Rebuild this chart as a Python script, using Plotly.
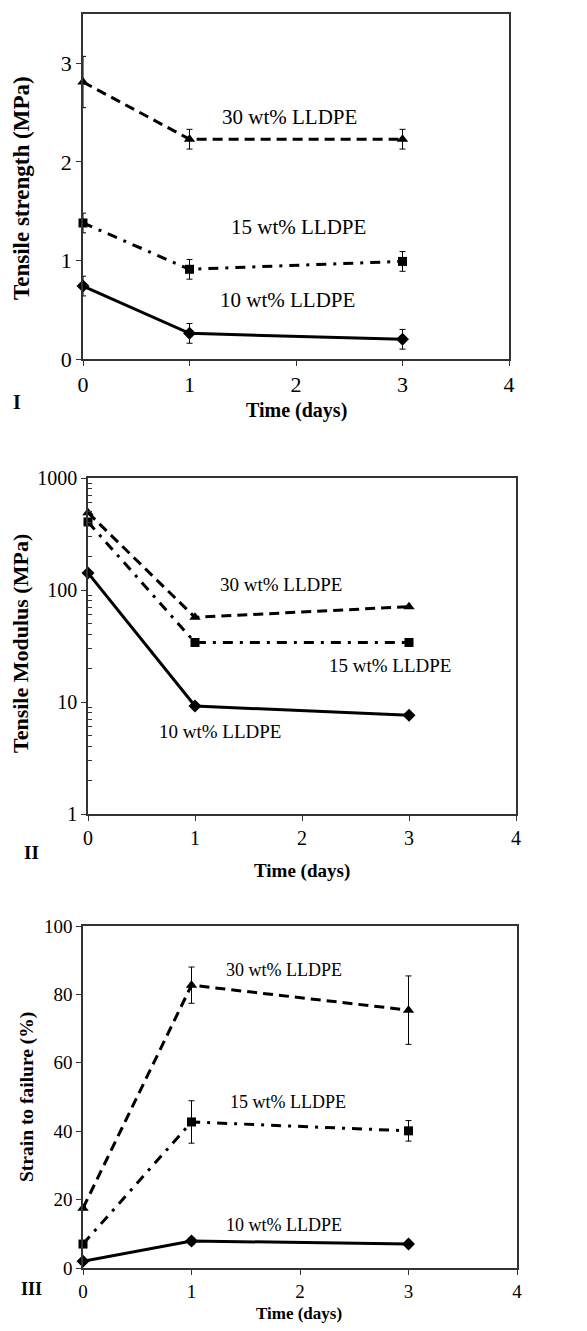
import plotly.graph_objects as go

# ---------------- data ----------------
days = [0, 1, 3]
labels = ["10 wt% LLDPE", "15 wt% LLDPE", "30 wt% LLDPE"]

# Panel I: tensile strength (MPa)
ts_10 = [0.74, 0.26, 0.20]
ts_10_err = [0.10, 0.10, 0.10]
ts_15 = [1.38, 0.91, 0.99]
ts_15_err = [0.10, 0.10, 0.10]
ts_30 = [2.81, 2.23, 2.23]
ts_30_err = [0.26, 0.10, 0.10]

# Panel II: tensile modulus (MPa)
tm_10 = [142, 9.2, 7.6]
tm_15 = [405, 34, 34]
tm_30 = [490, 57, 71]

# Panel III: strain to failure (%)
sf_10 = [2.0, 7.9, 7.0]
sf_10_err = [0.5, 1.0, 0.5]
sf_15 = [7.0, 42.7, 40.1]
sf_15_err = [0.5, 6.2, 3.0]
sf_30 = [17.5, 82.7, 75.4]
sf_30_err = [0.5, 5.3, 10.0]

x_ticks = [0, 1, 2, 3, 4]
log_major = [1, 10, 100, 1000]
log_minor = [m * d for d in (1, 10, 100) for m in range(2, 10)]

# page is 587x1331; the browser body has an 8px margin
OFF = 8
W, H = 587 - 2 * OFF, 1331 - 2 * OFF
FONT = "Liberation Serif, Times New Roman, serif"

styles = {
    "10": dict(dash="solid", symbol="diamond", size=10),
    "15": dict(dash="10px,7px,3px,7px", symbol="square", size=9),
    "30": dict(dash="10px,6px", symbol="triangle-up", size=10),
}

fig = go.Figure()


def add(xa, ya, y, key, err=None):
    st = styles[key]
    tr = dict(
        x=days, y=y, mode="lines+markers", xaxis=xa, yaxis=ya,
        line=dict(color="black", width=3, dash=st["dash"]),
        marker=dict(color="black", symbol=st["symbol"], size=st["size"]),
        showlegend=False, cliponaxis=False,
    )
    if err is not None:
        tr["error_y"] = dict(type="data", array=err, color="black",
                             thickness=1, width=3)
    fig.add_trace(go.Scatter(**tr))


add("x", "y", ts_10, "10", ts_10_err)
add("x", "y", ts_15, "15", ts_15_err)
add("x", "y", ts_30, "30", ts_30_err)

add("x2", "y2", tm_10, "10")
add("x2", "y2", tm_15, "15")
add("x2", "y2", tm_30, "30")

add("x3", "y3", sf_10, "10", sf_10_err)
add("x3", "y3", sf_15, "15", sf_15_err)
add("x3", "y3", sf_30, "30", sf_30_err)


def fx(p):
    return (p - OFF) / W


def fy(p):
    return (H - (p - OFF)) / H


def xdom(a, b):
    return [fx(a), fx(b)]


def ydom(top, bottom):
    return [fy(bottom), fy(top)]


axis_common = dict(showline=True, linecolor="#333", linewidth=1.5, mirror=True,
                   showgrid=False, zeroline=False, ticks="outside",
                   ticklen=5, tickcolor="#333", tickwidth=1.2,
                   automargin=False)

fig.update_layout(
    width=W, height=H, margin=dict(l=0, r=0, t=0, b=0),
    paper_bgcolor="white", plot_bgcolor="white",
    font=dict(family=FONT, color="black"),
    xaxis=dict(domain=xdom(83, 509), range=[0, 4], tickvals=x_ticks,
               anchor="y", tickfont=dict(size=22), **axis_common),
    yaxis=dict(domain=ydom(14, 359), range=[0, 3.5], tickvals=[0, 1, 2, 3],
               anchor="x", tickfont=dict(size=22), **axis_common),
    xaxis2=dict(domain=xdom(88, 516), range=[0, 4], tickvals=x_ticks,
                anchor="y2", tickfont=dict(size=20), **axis_common),
    yaxis2=dict(domain=ydom(478, 814), type="log", range=[0, 3],
                tickvals=log_major, ticktext=[str(v) for v in log_major],
                anchor="x2", tickfont=dict(size=20),
                minor=dict(tickvals=log_minor, ticks="inside", ticklen=4,
                           tickcolor="#333", tickwidth=1, showgrid=False),
                **axis_common),
    xaxis3=dict(domain=xdom(83, 517), range=[0, 4], tickvals=x_ticks,
                anchor="y3", tickfont=dict(size=19), **axis_common),
    yaxis3=dict(domain=ydom(926, 1268), range=[0, 100],
                tickvals=[0, 20, 40, 60, 80, 100],
                anchor="x3", tickfont=dict(size=19), **axis_common),
)

ann = []
# series labels (data coordinates)
ann += [
    dict(x=1.94, y=2.45, xref="x", yref="y", text=labels[2], font=dict(size=21)),
    dict(x=2.02, y=1.34, xref="x", yref="y", text=labels[1], font=dict(size=21)),
    dict(x=1.92, y=0.60, xref="x", yref="y", text=labels[0], font=dict(size=21)),
    dict(x=1.80, y=2.045, xref="x2", yref="y2", text=labels[2], font=dict(size=19)),
    dict(x=2.82, y=1.33, xref="x2", yref="y2", text=labels[1], font=dict(size=19)),
    dict(x=1.23, y=0.741, xref="x2", yref="y2", text=labels[0], font=dict(size=19)),
    dict(x=1.85, y=87.1, xref="x3", yref="y3", text=labels[2], font=dict(size=18)),
    dict(x=1.89, y=48.5, xref="x3", yref="y3", text=labels[1], font=dict(size=18)),
    dict(x=1.85, y=12.6, xref="x3", yref="y3", text=labels[0], font=dict(size=18)),
]


def paper(xp, yp, text, size, angle=0):
    return dict(x=fx(xp), y=fy(yp), xref="paper", yref="paper",
                text=text, textangle=angle, font=dict(size=size),
                showarrow=False, xanchor="center", yanchor="middle")


ann += [
    paper(22, 188, "<b>Tensile strength (MPa)</b>", 23, -90),
    paper(296, 411, "<b>Time (days)</b>", 20),
    paper(17, 402, "<b>I</b>", 20),
    paper(20, 644, "<b>Tensile Modulus (MPa)</b>", 22, -90),
    paper(302, 871, "<b>Time (days)</b>", 19),
    paper(31, 852, "<b>II</b>", 19),
    paper(27, 1097, "<b>Strain to failure (%)</b>", 19.5, -90),
    paper(299, 1313, "<b>Time (days)</b>", 17),
    paper(31, 1289, "<b>III</b>", 18),
]
for a in ann:
    a.setdefault("showarrow", False)
fig.update_layout(annotations=ann)

fig.write_html("out.html")
